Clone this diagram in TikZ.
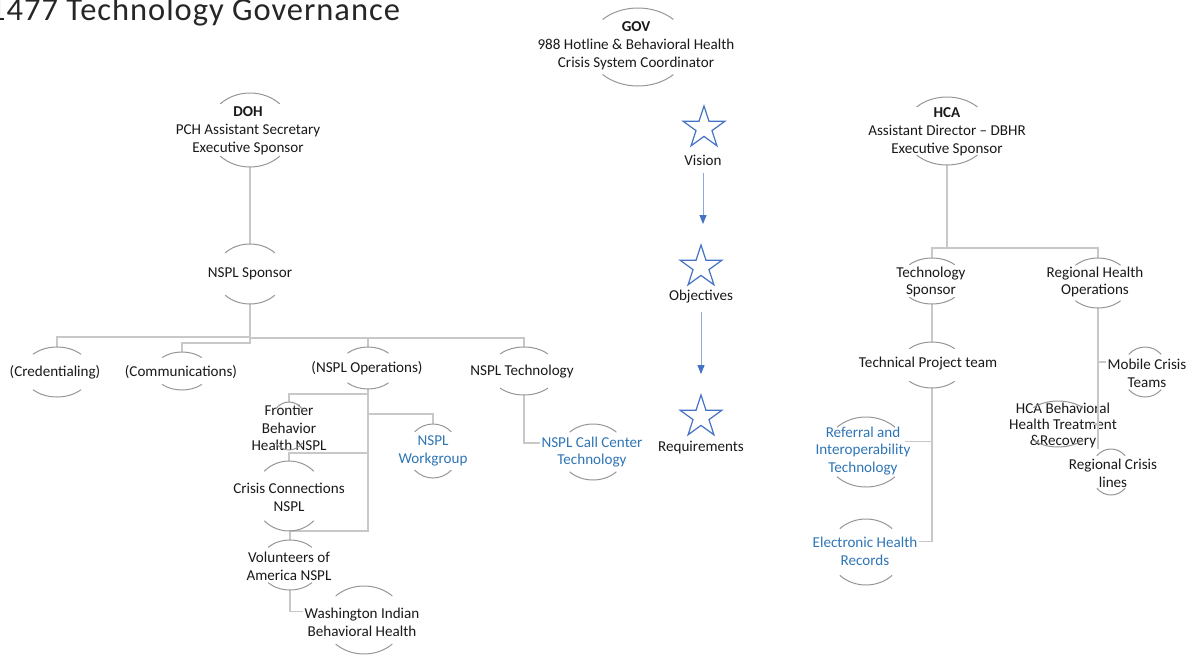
\documentclass[tikz,border=0pt]{standalone}
\usepackage{fontspec}
\setmainfont{Carlito}
\usepackage{xcolor}
\usepackage{tikz}
\usetikzlibrary{arrows.meta, shapes.geometric, calc}

\definecolor{ringgray}{RGB}{150,150,150}
\definecolor{linkgray}{RGB}{200,200,200}
\definecolor{starblue}{RGB}{68,114,196}
\definecolor{arrowblue}{RGB}{140,170,222}
\definecolor{textblue}{RGB}{46,117,182}

\begin{document}
\begin{tikzpicture}[
        x=1pt, y=-1pt,
        ring/.style 2 args={ellipse, inner sep=0pt, outer sep=0pt, minimum width=2*#1pt, minimum height=2*#2pt},
        ringline/.style={draw=ringgray, line width=1pt},
        txt/.style={align=center, inner sep=1pt, text=black!90, font=\fontsize{15.1}{17.8}\selectfont},
        bluetxt/.style={txt, text=textblue},
        link/.style={draw=linkgray, line width=1.3pt},
        goal/.style={star, star points=5, star point ratio=2.618, draw=starblue, fill=white, line width=1.2pt, minimum size=44pt, inner sep=0pt},
        flow/.style={draw=arrowblue, line width=1pt, -{Triangle[width=7pt, length=9pt, color=starblue]}}
    ]
        \useasboundingbox (0,0) rectangle (1194,656);

        \node[anchor=base west, inner sep=0pt, text=black!85, font=\fontsize{32.5}{38}\selectfont\addfontfeature{LetterSpace=3}] (title) at (-11,20) {1477 Technology Governance};

        \node[ring={50}{39}] (gov) at (638,47) {};
        \node[txt] (gov-t) at (636,46) {\textbf{GOV}\\988 Hotline \& Behavioral Health\\Crisis System Coordinator};

        \node[goal] (vision) at (704,128) {};
        \node[txt] (vision-t) at (703,160) {Vision};
        \node[goal] (objectives) at (701,267) {};
        \node[txt] (objectives-t) at (701,297) {Objectives};
        \node[goal] (requirements) at (701,417) {};
        \node[txt] (requirements-t) at (701,448) {Requirements};

        \draw[flow, shorten <=7pt, shorten >=19pt] (vision-t.south) -- (vision-t.south |- objectives.north);
        \draw[flow, shorten <=7pt, shorten >=19pt] (objectives-t.south) -- (objectives-t.south |- requirements.north);

        \node[ring={42}{37}] (doh) at (250,130) {};
        \node[txt] (doh-t) at (248,131) {\textbf{DOH}\\PCH Assistant Secretary\\Executive Sponsor};
        \node[ring={35}{30}] (nspls) at (250,274) {};
        \node[txt] (nspls-t) at (250,274) {NSPL Sponsor};
        \node[ring={34}{25}] (cred) at (57,372) {};
        \node[txt] (cred-t) at (55,372) {(Credentialing)};
        \node[ring={28}{19}] (comm) at (182,371) {};
        \node[txt] (comm-t) at (181,372) {(Communications)};
        \node[ring={29}{21}] (ops) at (368,368) {};
        \node[txt] (ops-t) at (367,368) {(NSPL Operations)};
        \node[ring={34}{24}] (tech) at (524,371) {};
        \node[txt] (tech-t) at (522,372) {NSPL Technology};
        \node[ring={19}{24}] (front) at (289,426) {};
        \node[txt] (front-t) at (289,428) {Frontier\\Behavior\\Health NSPL};
        \node[ring={35}{35}] (crisis) at (289,496) {};
        \node[txt] (crisis-t) at (289,497) {Crisis Connections\\NSPL};
        \node[ring={31}{25}] (vol) at (290,565) {};
        \node[txt] (vol-t) at (289,566) {Volunteers of\\America NSPL};
        \node[ring={40}{34}] (wash) at (364,620) {};
        \node[txt] (wash-t) at (362,622) {Washington Indian\\Behavioral Health};
        \node[ring={26}{27}] (wg) at (433,451) {};
        \node[bluetxt] (wg-t) at (433,451) {NSPL\\Workgroup};
        \node[ring={33}{28}] (callc) at (593,452) {};
        \node[bluetxt] (callc-t) at (592,452) {NSPL Call Center\\Technology};

        \node[ring={43}{34}] (hca) at (947,131) {};
        \node[txt] (hca-t) at (947,132) {\textbf{HCA}\\Assistant Director -- DBHR\\Executive Sponsor};
        \node[ring={32}{23}] (tsp) at (932,281) {};
        \node[txt] (tsp-t) at (931,282) {Technology\\Sponsor};
        \node[ring={32}{25}] (rho) at (1098,283) {};
        \node[txt] (rho-t) at (1095,282) {Regional Health\\Operations};
        \node[ring={32}{23}] (tpt) at (932,365) {};
        \node[txt] (tpt-t) at (928,364) {Technical Project team};
        \node[ring={41}{35}] (ref) at (866,452) {};
        \node[bluetxt] (ref-t) at (863,451) {Referral and\\Interoperability\\Technology};
        \node[ring={37}{33}] (ehr) at (866,552) {};
        \node[bluetxt] (ehr-t) at (865,551) {Electronic Health\\Records};
        \node[ring={23}{25}] (mct) at (1145,372) {};
        \node[txt] (mct-t) at (1147,373) {Mobile Crisis\\Teams};
        \node[ring={35}{23}] (hcab) at (1058,424) {};
        \node[txt, font=\fontsize{15.1}{16}\selectfont] (hcab-t) at (1063,425) {HCA Behavioral\\Health Treatment\\\&Recovery};
        \node[ring={20}{23}] (rcl) at (1111,472) {};
        \node[txt] (rcl-t) at (1113,473) {Regional Crisis\\lines};

        \draw[link] (doh.south) -- (nspls.north);
        \draw[link] (nspls.south) -- ++(0,33) -| (cred.north);
        \draw[link] (nspls.south) -- ++(0,39) -| (comm.north);
        \draw[link] (nspls.south) -- ++(0,34) -| (ops.north);
        \draw[link] (nspls.south) -- ++(0,34) -| (tech.north);
        \draw[link] (ops.south) -- ++(0,5) -| (front.north);
        \draw[link] (ops.south) -- ++(0,25) -| (wg.north);
        \draw[link] (ops.south) -- ++(0,64) -| (crisis.north);
        \draw[link] (ops.south) -- ++(0,142) -| (vol.north);
        \draw[link] (vol.south) |- (wash-t.170);
        \draw[link] (tech.south) |- (callc-t.170);

        \draw[link] (hca.south) -- ++(0,83) -| (tsp.north);
        \draw[link] (hca.south) -- ++(0,83) -| (rho.north);
        \draw[link] (tsp.south) -- (tpt.north);
        \draw[link] (tpt.south) |- (ref.15);
        \draw[link] (tpt.south) |- (ehr-t.10);
        \draw[link] (rho.south) |- (mct-t.165);
        \draw[link] (rho.south) |- (hcab.east);
        \draw[link] (rho.south) -- (rho.south |- rcl.north);

        \foreach \nd in {gov,doh,nspls,cred,comm,ops,tech,front,crisis,vol,wash,wg,callc,hca,tsp,rho,tpt,ref,ehr,mct,hcab,rcl}
            \draw[ringline] let \p1=($(\nd.east)-(\nd.center)$), \p2=($(\nd.north)-(\nd.center)$) in
                ($(\nd.center)+(45:\x1 and \y2)$) arc[start angle=45, end angle=135, x radius=\x1, y radius=\y2]
                ($(\nd.center)+(225:\x1 and \y2)$) arc[start angle=225, end angle=315, x radius=\x1, y radius=\y2];
    \end{tikzpicture}
\end{document}
